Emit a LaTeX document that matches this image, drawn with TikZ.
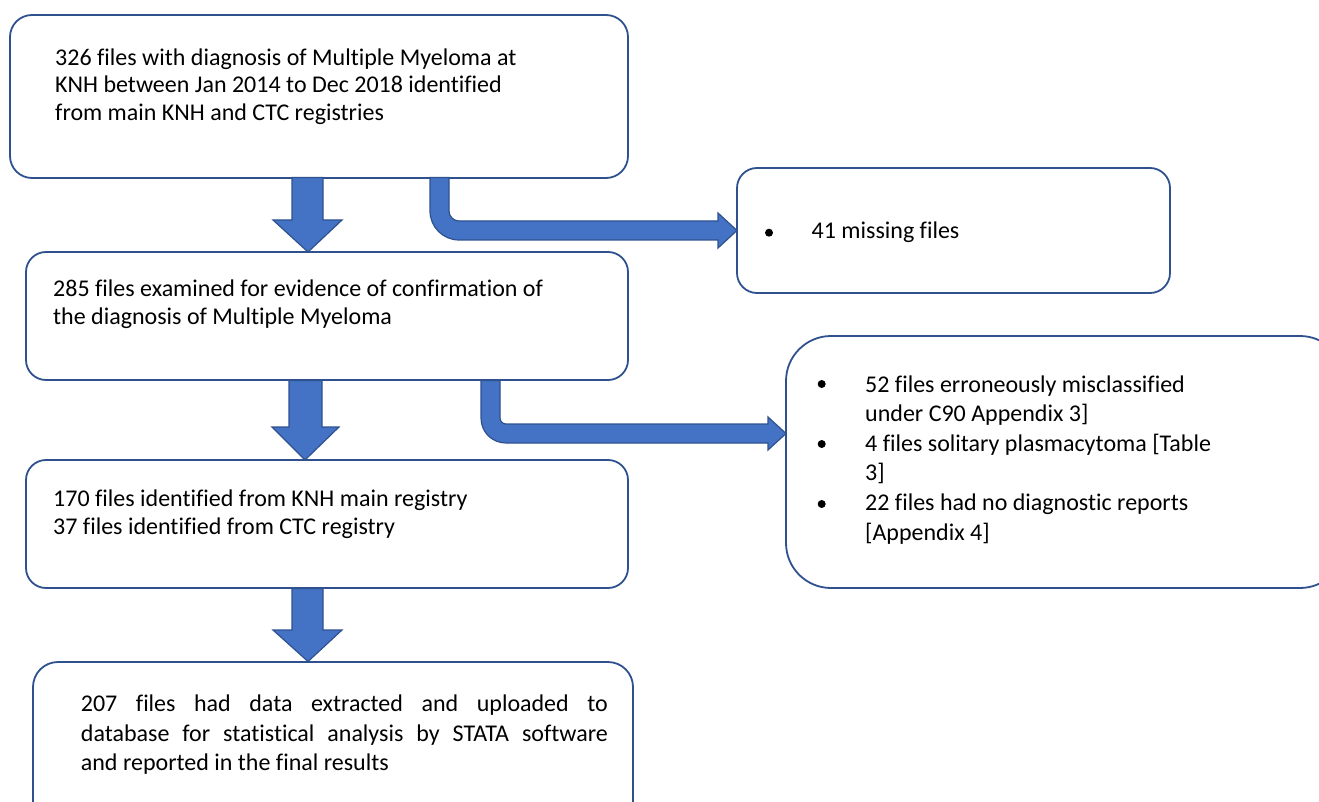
\documentclass[tikz,border=0pt]{standalone}
\usepackage{fontspec}
\setmainfont{Carlito}[Ligatures=NoCommon]
\definecolor{boxblue}{HTML}{2F528F}
\definecolor{arrowfill}{HTML}{4472C4}
\begin{document}
\begin{tikzpicture}[x=1pt,y=-1pt,
  box/.style={draw=boxblue, line width=1.8pt, rounded corners=#1, fill=white, inner sep=0pt},
  box/.default=20pt,
  txt/.style={anchor=base west, inner sep=0pt, font=\fontsize{24}{28}\selectfont},
  blk/.style={fill=arrowfill, draw=boxblue, line width=1.2pt, line join=miter},
  bul/.style={circle, fill=black, inner sep=0pt, minimum size=8pt}]
\useasboundingbox (0,0) rectangle (1319,802);
\clip (0,0) rectangle (1319,802);
% boxes
\node[box=22pt, minimum width=618pt, minimum height=163pt] (b1) at (319,96.5) {};
\node[box=20pt, minimum width=433pt, minimum height=125pt] (b2) at (953.5,230.5) {};
\node[box=20pt, minimum width=602pt, minimum height=128pt] (b3) at (327,316) {};
\node[box=45pt, minimum width=559pt, minimum height=252pt] (b4) at (1065.5,462) {};
\node[box=20pt, minimum width=602pt, minimum height=128pt] (b5) at (327,524) {};
\node[box=25pt, minimum width=600pt, minimum height=168pt] (b6) at (333,746) {};
% straight block arrows
\draw[blk] (292,177.5) -- (292,220) -- (273,220) -- (308,252) -- (342,220) -- (323,220) -- (323,177.5) -- cycle;
\draw[blk] (289,380.5) -- (289,427) -- (272,427) -- (305,460) -- (339,427) -- (322,427) -- (322,380.5) -- cycle;
\draw[blk] (292,588.5) -- (292,630) -- (273,630) -- (308,661.5) -- (342,630) -- (323,630) -- (323,588.5) -- cycle;
% bent block arrows
\draw[blk] (430,177.5) -- (430,211) .. controls (430,227) and (443,240) .. (459,240) -- (718,240) -- (718,248) -- (737,230.5) -- (718,213) -- (718,221) -- (459,221) .. controls (453.5,221) and (449,216.5) .. (449,211) -- (449,177.5) -- cycle;
\draw[blk] (481,380.5) -- (481,418) .. controls (481,432) and (492,443) .. (506,443) -- (768,443) -- (768,450) -- (786,433.5) -- (768,417) -- (768,424) -- (506,424) .. controls (502.7,424) and (500,421.3) .. (500,418) -- (500,380.5) -- cycle;
% box 1 text
\node[txt] (t1a) at (55,65.5) {326 files with diagnosis of Multiple Myeloma at};
\node[txt] (t1b) at (55,93) {KNH between Jan 2014 to Dec 2018 identified};
\node[txt] (t1c) at (55,120.5) {from main KNH and CTC registries};
% box 2 text
\node[bul] (p2) at (769,232.7) {};
\node[txt] (t2a) at (811.5,238.3) {41 missing files};
% box 3 text
\node[txt] (t3a) at (53,296.5) {285 files examined for evidence of confirmation of};
\node[txt] (t3b) at (53,324) {the diagnosis of Multiple Myeloma};
% box 4 text
\node[bul] (p4a) at (821.7,384) {};
\node[bul] (p4b) at (821.7,444) {};
\node[bul] (p4c) at (821.7,504) {};
\node[txt] (t4a) at (865,392.3) {52 files erroneously misclassified};
\node[txt] (t4b) at (865,421.7) {under C90 Appendix 3]};
\node[txt] (t4c) at (865,451.7) {4 files solitary plasmacytoma [Table};
\node[txt] (t4d) at (865,480.7) {3]};
\node[txt] (t4e) at (865,510.7) {22 files had no diagnostic reports};
\node[txt] (t4f) at (865,540) {[Appendix 4]};
% box 5 text
\node[txt] (t5a) at (53,506.5) {170 files identified from KNH main registry};
\node[txt] (t5b) at (53,534) {37 files identified from CTC registry};
% box 6 text
\node[txt] (t6a) at (80.7,711.7) {\makebox[527pt][s]{207 files had data extracted and uploaded to}};
\node[txt] (t6b) at (80.7,741) {\makebox[527pt][s]{database for statistical analysis by STATA software}};
\node[txt] (t6c) at (80.7,770) {and reported in the final results};
\end{tikzpicture}
\end{document}
